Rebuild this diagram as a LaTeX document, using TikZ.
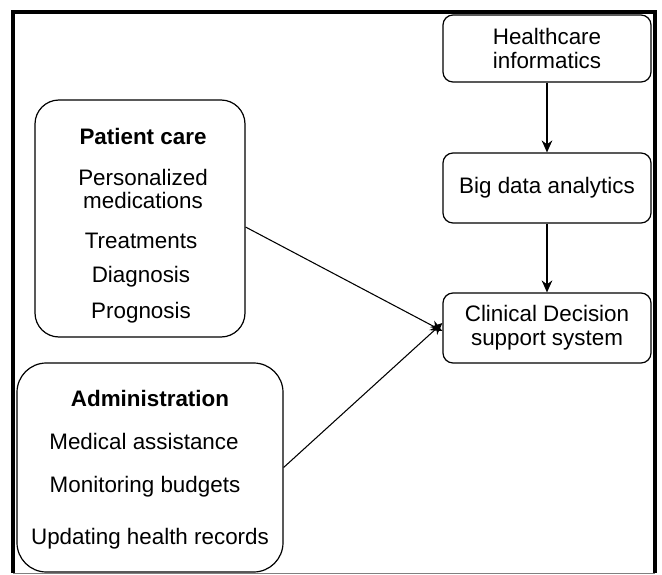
\documentclass[tikz,border=0pt]{standalone}
\usepackage{fontspec}
\setmainfont{Liberation Sans}
\usetikzlibrary{arrows.meta}

\tikzset{
  stepbox/.style={draw, rounded corners=7.5pt, line width=0.9pt, minimum width=156pt, align=center, inner sep=0pt, font=\fontsize{16.8}{18}\selectfont},
  groupbox/.style={draw, line width=0.9pt, inner sep=0pt},
  itemtxt/.style={inner sep=0pt, font=\fontsize{16.8}{17.5}\selectfont, align=center},
  flow/.style={-{Stealth[length=9pt,width=8pt]}, line width=0.8pt}
}

\begin{document}
\begin{tikzpicture}[x=0.75pt,y=0.75pt,yscale=-1,xscale=1]
        \useasboundingbox (0,0) rectangle (662,575);
        
        %Frame
        \draw [line width=2.4pt] (13,573) -- (13,12) -- (655,12) -- (655,573) ;
        \draw [gray, line width=0.6pt] (13,573) -- (655,573) ;
        
        %Right column
        \node [stepbox, minimum height=50.25pt] (informatics) at (547,48.5) {Healthcare\\informatics};
        \node [stepbox, minimum height=52.5pt] (analytics) at (547,188) {Big data analytics};
        \node [stepbox, minimum height=52.5pt] (clinical) at (547,328) {Clinical Decision\\support system};
        
        %Patient care group
        \node [groupbox, rounded corners=18pt, minimum width=157.5pt, minimum height=177.75pt] (patient) at (140,218.5) {};
        \node [itemtxt, font=\fontsize{16.8}{17.5}\selectfont\bfseries] (patienthead) at (143,136) {Patient care};
        \node [itemtxt] (medications) at (143,189) {Personalized\\medications};
        \node [itemtxt] (treatments) at (141,241) {Treatments};
        \node [itemtxt] (diagnosis) at (141,277) {Diagnosis};
        \node [itemtxt] (prognosis) at (141,313) {Prognosis};
        
        %Administration group
        \node [groupbox, rounded corners=22pt, minimum width=199.5pt, minimum height=156.75pt] (admin) at (150,467.5) {};
        \node [itemtxt, font=\fontsize{16.8}{17.5}\selectfont\bfseries] (adminhead) at (150,398) {Administration};
        \node [itemtxt] (assistance) at (144,441) {Medical assistance};
        \node [itemtxt] (budgets) at (145,487) {Monitoring budgets};
        \node [itemtxt] (records) at (150,539) {Updating health records};
        
        %Connectors
        \draw [flow] (informatics) -- (analytics) ;
        \draw [flow] (analytics) -- (clinical) ;
        \draw [flow] ([yshift=6.4pt]patient.east) -- ([yshift=2.25pt]clinical.west) ;
        \draw [flow] (admin.east) -- ([yshift=-3.75pt]clinical.west) ;
        
\end{tikzpicture}
\end{document}
